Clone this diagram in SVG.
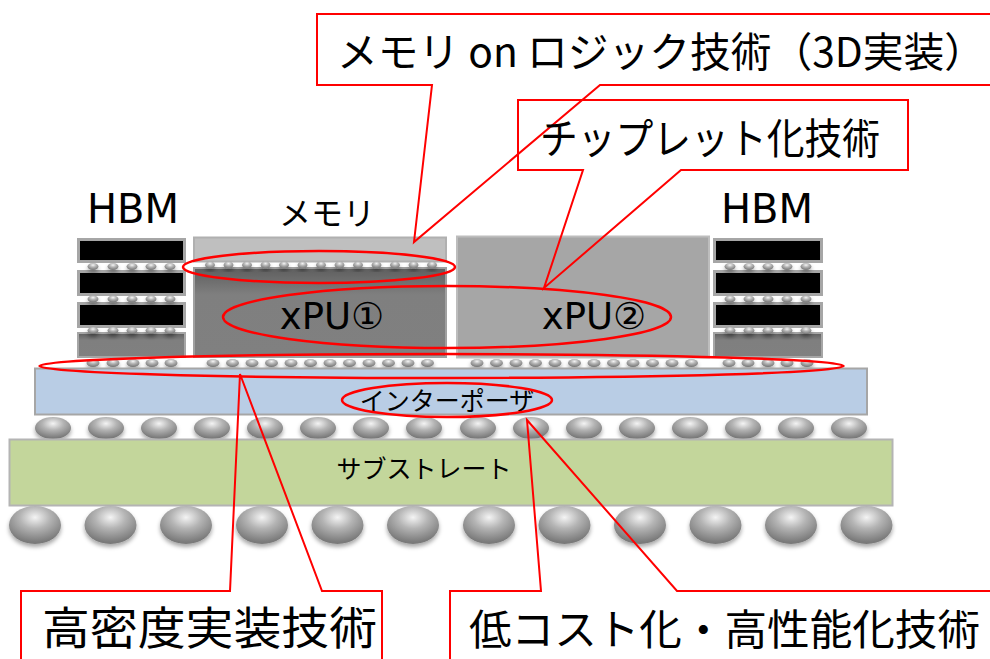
<svg xmlns="http://www.w3.org/2000/svg" width="990" height="659" viewBox="0 0 990 659">
  <defs>
    <radialGradient id="ball" cx="50%" cy="30%" r="65%">
      <stop offset="0" stop-color="#f4f4f4"/>
      <stop offset="0.45" stop-color="#b4b4b4"/>
      <stop offset="1" stop-color="#7a7a7a"/>
    </radialGradient>
    <linearGradient id="dieShade" x1="0" y1="0" x2="0" y2="1">
      <stop offset="0" stop-color="#5e5e5e"/>
      <stop offset="0.3" stop-color="#7f7f7f"/>
      <stop offset="1" stop-color="#808080"/>
    </linearGradient>
    <filter id="shadow" x="-30%" y="-30%" width="160%" height="180%">
      <feDropShadow dx="0" dy="3" stdDeviation="2" flood-color="#000" flood-opacity="0.35"/>
    </filter>
    <style>
      .lat { font-family: "DejaVu Sans", "Noto Sans CJK JP", sans-serif; fill: #000; }
      .jp { font-family: "Noto Sans CJK JP", sans-serif; fill: #000; }
      .layer { fill: #000; stroke: #a6a6a6; stroke-width: 3; }
      .base { fill: url(#dieShade); stroke: #a6a6a6; stroke-width: 2; }
      .bump { fill: url(#ball); filter: url(#shadow); }
      .ring { fill: none; stroke: #ff0000; stroke-width: 2.5; }
      .callout { fill: none; stroke: #ff0000; stroke-width: 2; }
    </style>
  </defs>

  <!-- labels above the chips -->
  <text class="lat" x="133" y="223" font-size="40" text-anchor="middle">HBM</text>
  <text class="jp" x="327" y="225" font-size="32" text-anchor="middle">メモリ</text>
  <text class="lat" x="767" y="223" font-size="40" text-anchor="middle">HBM</text>

  <!-- left HBM stack -->
  <g id="hbm-left">
    <rect class="layer" x="78.5" y="239.5" width="106" height="22"/>
    <rect class="layer" x="78.5" y="271.5" width="106" height="23"/>
    <rect class="layer" x="78.5" y="303.5" width="106" height="23"/>
    <rect class="base" x="78" y="333" width="107" height="24"/>
    <g class="bump">
      <ellipse cx="93" cy="266.5" rx="5.5" ry="3.5"/><ellipse cx="113" cy="266.5" rx="5.5" ry="3.5"/><ellipse cx="132" cy="266.5" rx="5.5" ry="3.5"/><ellipse cx="151" cy="266.5" rx="5.5" ry="3.5"/><ellipse cx="170" cy="266.5" rx="5.5" ry="3.5"/>
      <ellipse cx="93" cy="299" rx="5.5" ry="3.5"/><ellipse cx="113" cy="299" rx="5.5" ry="3.5"/><ellipse cx="132" cy="299" rx="5.5" ry="3.5"/><ellipse cx="151" cy="299" rx="5.5" ry="3.5"/><ellipse cx="170" cy="299" rx="5.5" ry="3.5"/>
      <ellipse cx="93" cy="330.5" rx="5.5" ry="3.5"/><ellipse cx="113" cy="330.5" rx="5.5" ry="3.5"/><ellipse cx="132" cy="330.5" rx="5.5" ry="3.5"/><ellipse cx="151" cy="330.5" rx="5.5" ry="3.5"/><ellipse cx="170" cy="330.5" rx="5.5" ry="3.5"/>
    </g>
  </g>

  <!-- memory die stacked on xPU1 -->
  <g id="memory">
    <rect x="194" y="237.5" width="252" height="24" fill="#bfbfbf" stroke="#b0b0b0" stroke-width="2"/>
  </g>
  <g id="xpu1">
    <rect x="194" y="268" width="252" height="89" fill="url(#dieShade)" stroke="#a0a0a0" stroke-width="2"/>
    <g class="bump">
      <ellipse cx="210" cy="265" rx="5" ry="3.5"/><ellipse cx="228.5" cy="265" rx="5" ry="3.5"/><ellipse cx="247" cy="265" rx="5" ry="3.5"/><ellipse cx="265.5" cy="265" rx="5" ry="3.5"/><ellipse cx="284" cy="265" rx="5" ry="3.5"/><ellipse cx="302.5" cy="265" rx="5" ry="3.5"/><ellipse cx="321" cy="265" rx="5" ry="3.5"/><ellipse cx="339.5" cy="265" rx="5" ry="3.5"/><ellipse cx="358" cy="265" rx="5" ry="3.5"/><ellipse cx="376.5" cy="265" rx="5" ry="3.5"/><ellipse cx="395" cy="265" rx="5" ry="3.5"/><ellipse cx="413.5" cy="265" rx="5" ry="3.5"/><ellipse cx="432" cy="265" rx="5" ry="3.5"/>
    </g>
    <text class="lat" x="332" y="329" font-size="37" text-anchor="middle">xPU①</text>
  </g>

  <!-- xPU2 -->
  <g id="xpu2">
    <rect x="457" y="236.5" width="252" height="121" fill="#a6a6a6" stroke="#bdbdbd" stroke-width="2"/>
    <text class="lat" x="594" y="329" font-size="37" text-anchor="middle">xPU②</text>
  </g>

  <!-- right HBM stack -->
  <g id="hbm-right">
    <rect class="layer" x="714.5" y="239.5" width="107" height="22"/>
    <rect class="layer" x="714.5" y="271.5" width="107" height="23"/>
    <rect class="layer" x="714.5" y="303.5" width="107" height="23"/>
    <rect class="base" x="714" y="333" width="108" height="24"/>
    <g class="bump">
      <ellipse cx="730" cy="266.5" rx="5.5" ry="3.5"/><ellipse cx="749" cy="266.5" rx="5.5" ry="3.5"/><ellipse cx="768" cy="266.5" rx="5.5" ry="3.5"/><ellipse cx="787" cy="266.5" rx="5.5" ry="3.5"/><ellipse cx="806" cy="266.5" rx="5.5" ry="3.5"/>
      <ellipse cx="730" cy="299" rx="5.5" ry="3.5"/><ellipse cx="749" cy="299" rx="5.5" ry="3.5"/><ellipse cx="768" cy="299" rx="5.5" ry="3.5"/><ellipse cx="787" cy="299" rx="5.5" ry="3.5"/><ellipse cx="806" cy="299" rx="5.5" ry="3.5"/>
      <ellipse cx="730" cy="330.5" rx="5.5" ry="3.5"/><ellipse cx="749" cy="330.5" rx="5.5" ry="3.5"/><ellipse cx="768" cy="330.5" rx="5.5" ry="3.5"/><ellipse cx="787" cy="330.5" rx="5.5" ry="3.5"/><ellipse cx="806" cy="330.5" rx="5.5" ry="3.5"/>
    </g>
  </g>

  <!-- micro bumps between chips and interposer -->
  <g id="micro-bumps" class="bump">
    <ellipse cx="93" cy="363" rx="6.5" ry="4"/><ellipse cx="113" cy="363" rx="6.5" ry="4"/><ellipse cx="133" cy="363" rx="6.5" ry="4"/><ellipse cx="152" cy="363" rx="6.5" ry="4"/><ellipse cx="171" cy="363" rx="6.5" ry="4"/>
    <ellipse cx="213" cy="363" rx="6.5" ry="4"/><ellipse cx="232.5" cy="363" rx="6.5" ry="4"/><ellipse cx="252" cy="363" rx="6.5" ry="4"/><ellipse cx="271.5" cy="363" rx="6.5" ry="4"/><ellipse cx="291" cy="363" rx="6.5" ry="4"/><ellipse cx="310.5" cy="363" rx="6.5" ry="4"/><ellipse cx="330" cy="363" rx="6.5" ry="4"/><ellipse cx="349.5" cy="363" rx="6.5" ry="4"/><ellipse cx="369" cy="363" rx="6.5" ry="4"/><ellipse cx="388.5" cy="363" rx="6.5" ry="4"/><ellipse cx="408" cy="363" rx="6.5" ry="4"/><ellipse cx="427.5" cy="363" rx="6.5" ry="4"/>
    <ellipse cx="477" cy="363" rx="6.5" ry="4"/><ellipse cx="496.5" cy="363" rx="6.5" ry="4"/><ellipse cx="516" cy="363" rx="6.5" ry="4"/><ellipse cx="535.5" cy="363" rx="6.5" ry="4"/><ellipse cx="555" cy="363" rx="6.5" ry="4"/><ellipse cx="574.5" cy="363" rx="6.5" ry="4"/><ellipse cx="594" cy="363" rx="6.5" ry="4"/><ellipse cx="613.5" cy="363" rx="6.5" ry="4"/><ellipse cx="633" cy="363" rx="6.5" ry="4"/><ellipse cx="652.5" cy="363" rx="6.5" ry="4"/><ellipse cx="672" cy="363" rx="6.5" ry="4"/><ellipse cx="691.5" cy="363" rx="6.5" ry="4"/>
    <ellipse cx="729" cy="363" rx="6.5" ry="4"/><ellipse cx="748" cy="363" rx="6.5" ry="4"/><ellipse cx="768" cy="363" rx="6.5" ry="4"/><ellipse cx="787" cy="363" rx="6.5" ry="4"/><ellipse cx="807" cy="363" rx="6.5" ry="4"/>
  </g>

  <!-- interposer -->
  <g id="interposer">
    <rect x="35" y="368.5" width="832" height="46" fill="#b9cde5" stroke="#a6a6a6" stroke-width="2"/>
    <text class="jp" x="447" y="410" font-size="25" text-anchor="middle">インターポーザ</text>
  </g>

  <!-- C4 bumps between interposer and substrate -->
  <g id="c4-bumps" class="bump">
    <ellipse cx="53" cy="428" rx="18" ry="11"/><ellipse cx="106" cy="428" rx="18" ry="11"/><ellipse cx="159" cy="428" rx="18" ry="11"/><ellipse cx="212" cy="428" rx="18" ry="11"/><ellipse cx="265" cy="428" rx="18" ry="11"/><ellipse cx="318" cy="428" rx="18" ry="11"/><ellipse cx="371" cy="428" rx="18" ry="11"/><ellipse cx="424" cy="428" rx="18" ry="11"/><ellipse cx="478" cy="428" rx="18" ry="11"/><ellipse cx="531" cy="428" rx="18" ry="11"/><ellipse cx="584" cy="428" rx="18" ry="11"/><ellipse cx="637" cy="428" rx="18" ry="11"/><ellipse cx="690" cy="428" rx="18" ry="11"/><ellipse cx="743" cy="428" rx="18" ry="11"/><ellipse cx="796" cy="428" rx="18" ry="11"/><ellipse cx="849" cy="428" rx="18" ry="11"/>
  </g>

  <!-- package substrate -->
  <g id="substrate">
    <rect x="9.5" y="439.5" width="883" height="66" fill="#c3d69b" stroke="#b4b4b4" stroke-width="2"/>
    <text class="jp" x="424" y="478" font-size="25" text-anchor="middle">サブストレート</text>
  </g>

  <!-- BGA balls -->
  <g id="bga-balls" class="bump">
    <ellipse cx="35" cy="525" rx="26" ry="19"/><ellipse cx="110.5" cy="525" rx="26" ry="19"/><ellipse cx="186" cy="525" rx="26" ry="19"/><ellipse cx="262" cy="525" rx="26" ry="19"/><ellipse cx="337.5" cy="525" rx="26" ry="19"/><ellipse cx="413" cy="525" rx="26" ry="19"/><ellipse cx="489" cy="525" rx="26" ry="19"/><ellipse cx="564.5" cy="525" rx="26" ry="19"/><ellipse cx="640" cy="525" rx="26" ry="19"/><ellipse cx="715.5" cy="525" rx="26" ry="19"/><ellipse cx="791" cy="525" rx="26" ry="19"/><ellipse cx="866.5" cy="525" rx="26" ry="19"/>
  </g>

  <!-- highlight rings -->
  <g id="rings">
    <ellipse class="ring" cx="319" cy="267" rx="136" ry="16"/>
    <ellipse class="ring" cx="447" cy="317" rx="224" ry="31"/>
    <ellipse class="ring" cx="441.5" cy="366" rx="402" ry="12"/>
    <ellipse class="ring" cx="447" cy="400" rx="105" ry="17"/>
  </g>

  <!-- callouts with their pointers -->
  <g id="connectors">
    <path class="callout" d="M1000,14 H317 V85 H432 L414,242 L600,85 H1000"/>
    <path class="callout" d="M518,100 H908 V170 H681 L544,288 L583,170 H518 Z"/>
    <path class="callout" d="M21,670 V591 H230 L240,374 L322,591 H382 V670"/>
    <path class="callout" d="M450,670 V591 H541 L527,420 L677,591 H1000"/>
  </g>

  <g id="callout-3d">
    <text class="jp" x="337" y="67" font-size="41" textLength="648" lengthAdjust="spacingAndGlyphs">メモリ on ロジック技術（3D実装）</text>
  </g>
  <g id="callout-chiplet">
    <text class="jp" x="540" y="154" font-size="42" textLength="340" lengthAdjust="spacingAndGlyphs">チップレット化技術</text>
  </g>
  <g id="callout-density">
    <text class="jp" x="42" y="645" font-size="45" textLength="335" lengthAdjust="spacingAndGlyphs">高密度実装技術</text>
  </g>
  <g id="callout-cost">
    <text class="jp" x="469" y="645" font-size="42.5" textLength="511" lengthAdjust="spacingAndGlyphs">低コスト化・高性能化技術</text>
  </g>
</svg>
